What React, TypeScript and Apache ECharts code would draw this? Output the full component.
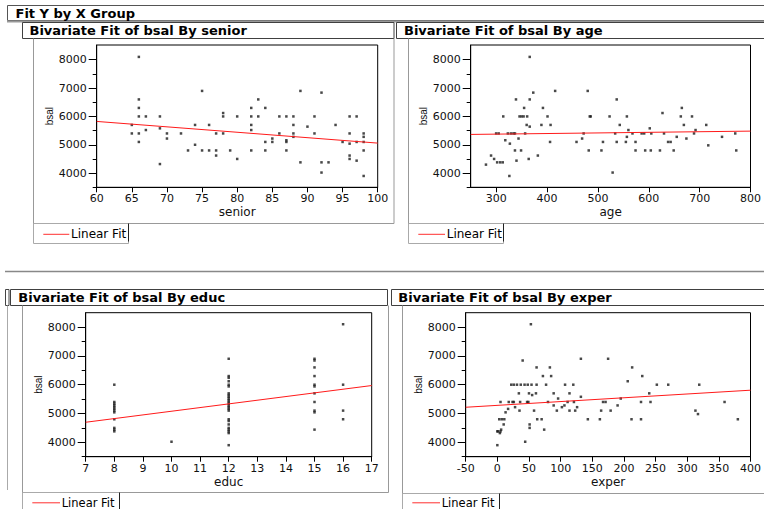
import React, { useEffect, useRef } from "react";
import * as echarts from "echarts";

// ---------- data ----------
const yMajor = [4000, 5000, 6000, 7000, 8000];
const yMinor = [3500, 4500, 5500, 6500, 7500];
const seniorTicks = [60, 65, 70, 75, 80, 85, 90, 95, 100];
const ageTicks = [300, 400, 500, 600, 700, 800];
const educTicks = [7, 8, 9, 10, 11, 12, 13, 14, 15, 16, 17];
const experTicks = [-50, 0, 50, 100, 150, 200, 250, 300, 350, 400];

const seniorPts = [
  [66, 8100], [66, 6600], [66, 6300], [66, 6000], [66, 5400], [66, 5100], [65, 5700], [65, 5400],
  [67, 6000], [67, 5520], [69, 6000], [69, 5580], [69, 4320], [70, 5400], [70, 5220], [72, 5400],
  [73, 4800], [74, 5700], [74, 5000], [75, 6900], [75, 4800], [76, 5700], [76, 4800], [77, 5400],
  [77, 4800], [77, 4620], [78, 6120], [78, 6000], [78, 5400], [79, 4800], [80, 6000], [80, 4500],
  [82, 6300], [82, 6000], [82, 5700], [82, 5520], [82, 4800], [83, 6600], [83, 6000], [84, 6300],
  [84, 5100], [84, 4800], [85, 5220], [85, 5100], [86, 6000], [86, 5400], [87, 6000], [87, 5160],
  [87, 5100], [87, 4800], [88, 6000], [88, 5700], [88, 5400], [88, 5280], [89, 6900], [89, 4380],
  [90, 5640], [91, 6000], [91, 5400], [92, 6840], [92, 4380], [92, 4020], [93, 4380], [94, 5700],
  [95, 5100], [96, 6000], [96, 5400], [96, 5040], [96, 4620], [96, 4500], [97, 6000], [97, 5100],
  [97, 4440], [98, 5400], [98, 5280], [98, 5100], [98, 4800], [98, 3900],
];
const agePts = [
  [280, 4300], [290, 4620], [296, 4500], [300, 5400], [305, 5400], [302, 4380], [308, 4380], [313, 4380],
  [314, 6000], [318, 5160], [323, 5400], [326, 3900], [327, 5040], [329, 5400], [334, 5400], [337, 4800],
  [337, 5400], [339, 6600], [340, 4440], [344, 5220], [346, 6000], [349, 4800], [350, 6000], [354, 6000],
  [355, 6300], [357, 5400], [360, 5700], [361, 6000], [364, 4500], [366, 6600], [366, 8100], [366, 5640],
  [373, 6840], [382, 4620], [389, 5700], [392, 6300], [401, 6000], [406, 5100], [407, 5700], [416, 6900],
  [458, 5100], [469, 5220], [472, 5400], [480, 6900], [482, 4800], [484, 6000], [486, 6000], [507, 4800],
  [510, 5100], [523, 6000], [529, 4020], [534, 5400], [537, 6600], [537, 5100], [543, 5700], [555, 5100],
  [557, 6000], [557, 5280], [560, 5520], [568, 5400], [574, 4800], [574, 5100], [586, 5400], [591, 5400],
  [593, 4800], [602, 5580], [605, 5400], [604, 4800], [622, 4800], [627, 6120], [630, 5400], [638, 5100],
  [643, 5100], [649, 4800], [655, 5280], [663, 6000], [665, 6300], [669, 5700], [674, 5220], [685, 6000],
  [689, 5400], [692, 5520], [713, 5700], [717, 4980], [744, 5280], [770, 5400], [772, 4800],
];
const educPts = [
  [8, 6000], [8, 5400], [8, 5340], [8, 5280], [8, 5220], [8, 5160], [8, 5100], [8, 5040], [8, 4800],
  [8, 4500], [8, 4440], [8, 4380], [10, 4020],
  [12, 6900], [12, 6300], [12, 6240], [12, 6120], [12, 6000], [12, 5940], [12, 5700], [12, 5640],
  [12, 5580], [12, 5520], [12, 5460], [12, 5400], [12, 5340], [12, 5280], [12, 5220], [12, 5160],
  [12, 5100], [12, 4800], [12, 4740], [12, 4620], [12, 4500], [12, 4440], [12, 4380], [12, 4320], [12, 3900],
  [15, 6900], [15, 6840], [15, 6600], [15, 6300], [15, 6000], [15, 5940], [15, 5700], [15, 5400],
  [15, 5100], [15, 5040], [15, 4440],
  [16, 8100], [16, 6000], [16, 5100], [16, 4800],
];
const experPts = [
  [0, 3900], [0, 4380], [1, 4380], [4, 4320], [5, 4380], [6, 4440], [3, 4800], [7, 4800], [10, 4620],
  [11, 4800], [5, 5400], [13, 5040], [17, 5160], [18, 5400], [22, 6000], [24, 5400], [26, 5400],
  [26, 6000], [28, 5220], [31, 6000], [34, 5700], [35, 5100], [36, 5400], [37, 6000], [40, 6840],
  [44, 4020], [43, 6000], [47, 5400], [48, 6000], [49, 5400], [50, 5700], [51, 4620], [51, 4500],
  [53, 8100], [54, 6000], [55, 5640], [58, 5100], [62, 6000], [61, 5700], [62, 6600], [63, 4800],
  [70, 4800], [72, 6300], [74, 4440], [77, 6000], [80, 5400], [83, 6600], [85, 6300], [89, 5700],
  [89, 5280], [94, 5100], [96, 5520], [102, 5220], [106, 5280], [107, 6000], [111, 5400], [114, 5700],
  [114, 5100], [120, 6000], [121, 5400], [123, 5100], [126, 5220], [132, 5580], [132, 6900], [143, 4800],
  [162, 4800], [164, 5100], [167, 5400], [171, 5400], [175, 6900], [179, 5100], [190, 5280], [195, 5520],
  [206, 6120], [212, 4800], [213, 6600], [227, 5400], [227, 4800], [229, 6300], [240, 5700], [242, 5400],
  [252, 6000], [270, 6000], [313, 5100], [317, 4980], [319, 6000], [359, 5400], [380, 4800],
];
const seniorFit = [[60, 5824], [100, 5059]];
const ageFit = [[250, 5365], [800, 5482]];
const educFit = [[7, 4696], [17, 5971]];
const experFit = [[-50, 5217], [400, 5809]];

const titles = [
  "Bivariate Fit of bsal By senior",
  "Bivariate Fit of bsal By age",
  "Bivariate Fit of bsal By educ",
  "Bivariate Fit of bsal By exper",
];

const FONT = "DejaVu Sans";

export default function App() {
  const ref = useRef<HTMLDivElement>(null);
  useEffect(() => {
    if (!ref.current) return;
    const chart = echarts.init(ref.current, undefined, { renderer: "svg" });

    const panels = [
      { name: "senior", pts: seniorPts, fit: seniorFit, ticks: seniorTicks, min: 60, max: 100, interval: 5,
        grid: { left: 96.7, top: 45, width: 281, height: 142.3 }, yMax: 8520 },
      { name: "age", pts: agePts, fit: ageFit, ticks: ageTicks, min: 250, max: 800, interval: 50,
        grid: { left: 470.7, top: 45, width: 281.6, height: 142.3 }, yMax: 8520 },
      { name: "educ", pts: educPts, fit: educFit, ticks: educTicks, min: 7, max: 17, interval: 1,
        grid: { left: 85.7, top: 312.7, width: 286, height: 144 }, yMax: 8500 },
      { name: "exper", pts: experPts, fit: experFit, ticks: experTicks, min: -50, max: 400, interval: 50,
        grid: { left: 465.7, top: 312.7, width: 286, height: 144 }, yMax: 8500 },
    ];

    const grids: any[] = [];
    const xAxes: any[] = [];
    const yAxes: any[] = [];
    const series: any[] = [];
    panels.forEach((p, i) => {
      grids.push({ ...p.grid, show: true, borderColor: "#000", borderWidth: 1, containLabel: false });
      xAxes.push({
        gridIndex: i, type: "value", min: p.min, max: p.max, interval: p.interval,
        axisLine: { show: true, onZero: false, lineStyle: { color: "#000", width: 1 } },
        axisTick: { show: true, length: 5, customValues: p.ticks, lineStyle: { color: "#000" } },
        axisLabel: { customValues: p.ticks, margin: 6, fontSize: 11, color: "#111", fontFamily: FONT,
          formatter: (v: number) => String(v) },
        splitLine: { show: false },
        name: p.name, nameLocation: "middle", nameGap: 19,
        nameTextStyle: { fontSize: 12, color: "#111", fontFamily: FONT },
      });
      yAxes.push({
        gridIndex: i, type: "value", min: 3500, max: p.yMax, interval: 500, position: "left",
        axisLine: { show: true, onZero: false, lineStyle: { color: "#000", width: 1 } },
        axisTick: { show: true, length: 8, customValues: yMajor, lineStyle: { color: "#000" } },
        axisLabel: { customValues: yMajor, margin: 10, fontSize: 11, color: "#111", fontFamily: FONT,
          formatter: (v: number) => String(v) },
        splitLine: { show: false },
        name: "bsal", nameLocation: "middle", nameGap: 38, nameRotate: 90,
        nameTextStyle: { fontSize: 10, color: "#111", fontFamily: "Liberation Sans" },
      });
      yAxes.push({
        gridIndex: i, type: "value", min: 3500, max: p.yMax, interval: 500, position: "left", offset: 0,
        axisLine: { show: false, onZero: false },
        axisTick: { show: true, length: 4, customValues: yMinor, lineStyle: { color: "#000" } },
        axisLabel: { show: false },
        splitLine: { show: false },
      });
      series.push({
        type: "scatter", xAxisIndex: i, yAxisIndex: 2 * i, data: p.pts,
        symbol: "rect", symbolSize: 2.5, itemStyle: { color: "#1a1a1a" }, silent: true,
      });
      series.push({
        type: "line", xAxisIndex: i, yAxisIndex: 2 * i, data: p.fit, symbol: "none",
        lineStyle: { color: "#ff1a1a", width: 1 }, silent: true,
      });
    });

    const rect = (x: number, y: number, w: number, h: number, stroke: string, lw = 1) => ({
      type: "rect", silent: true, shape: { x, y, width: w, height: h },
      style: { fill: "none", stroke, lineWidth: lw },
    });
    const line = (x1: number, y1: number, x2: number, y2: number, stroke: string, lw = 1) => ({
      type: "line", silent: true, shape: { x1, y1, x2, y2 }, style: { stroke, lineWidth: lw },
    });
    const text = (t: string, x: number, y: number, size: number, bold: boolean) => ({
      type: "text", silent: true, x, y,
      style: {
        text: t, fill: "#000", font: `${bold ? "bold " : ""}${size}px '${FONT}'`,
        textAlign: "left", align: "left", textVerticalAlign: "middle", verticalAlign: "middle",
      },
    });
    const legend = (bx: number, by: number, bw: number, ly: number, lx1: number, lx2: number, fs: number) => [
      rect(bx, by, bw, 20, "#aaa"),
      line(bx + bw, by, bx + bw, by + 18, "#222"),
      line(lx1, ly, lx2, ly, "#ff3030", 1),
      text("Linear Fit", lx2 + 1.7, ly, fs, false),
    ];

    const graphic: any[] = [
      // header
      rect(7.5, 5.5, 800, 15, "#555"),
      line(7, 21.5, 764, 21.5, "#999", 2),
      text("Fit Y by X Group", 15.5, 13.7, 13, true),
      // top-left title & container
      rect(22.5, 22.5, 371.5, 16, "#404040"),
      text(titles[0], 29.5, 30.8, 13, true),
      line(33.5, 38.5, 33.5, 241, "#999"),
      line(33.5, 223.5, 394, 223.5, "#999"),
      line(394, 38.5, 394, 223.5, "#999"),
      ...legend(33.5, 223.5, 95, 234.3, 43.3, 69.3, 12),
      // top-right title & container
      rect(396.5, 22.5, 400, 16, "#404040"),
      text(titles[1], 404, 30.8, 13, true),
      line(408.5, 38.5, 408.5, 241, "#999"),
      line(408.5, 223.5, 764, 223.5, "#999"),
      ...legend(408.5, 223.5, 95, 234.3, 418.3, 445, 12),
      // separator
      line(5, 271.5, 764, 271.5, "#888", 1.5),
      // bottom-left
      rect(5.5, 289.5, 3.5, 16, "#444"),
      line(7.5, 305.5, 7.5, 490, "#aaa"),
      rect(10.5, 289.5, 377, 16, "#404040"),
      text(titles[2], 18.3, 297.5, 13, true),
      line(22.5, 305.5, 22.5, 509, "#999"),
      line(22.5, 492.5, 388.5, 492.5, "#999"),
      line(388.5, 305.5, 388.5, 492.5, "#999"),
      ...legend(22.5, 492.5, 97, 502.8, 32.3, 60, 11.5),
      // bottom-right
      rect(391.5, 289.5, 400, 16, "#404040"),
      text(titles[3], 398.3, 297.5, 13, true),
      line(402.5, 305.5, 402.5, 509, "#999"),
      line(402.5, 493.5, 764, 493.5, "#999"),
      ...legend(402.5, 493.5, 97, 502.8, 412.3, 440, 11.5),
    ];

    chart.setOption({
      animation: false,
      backgroundColor: "#fff",
      textStyle: { fontFamily: FONT },
      grid: grids,
      xAxis: xAxes,
      yAxis: yAxes,
      series,
      graphic,
    });
    return () => chart.dispose();
  }, []);

  return (
    <div
      ref={ref}
      style={{ position: "absolute", left: 0, top: 0, width: 764, height: 509, background: "#fff" }}
    />
  );
}
